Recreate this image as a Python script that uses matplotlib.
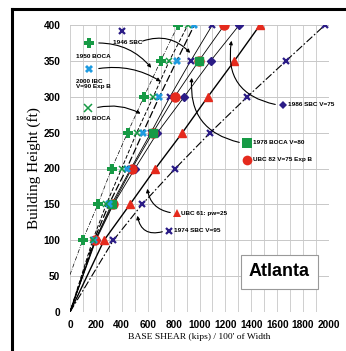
import matplotlib
matplotlib.use("Agg")
import matplotlib.pyplot as plt
from matplotlib.lines import Line2D

# heights (ft)
heights = [100, 150, 200, 250, 300, 350, 400]

# base shear (kips) / 100' of width
boca_1950 = [98, 215, 322, 445, 571, 700, 835]
boca_1960 = [175, 280, 399, 515, 643, 767, 910]
ibc_2000 = [185, 300, 438, 563, 690, 824, 960]
sbc_1946 = [195, 320, 470, 625, 772, 932, 1099]
ubc_1982 = [193, 330, 478, 640, 808, 995, 1192]
sbc_1986 = [200, 335, 502, 675, 882, 1086, 1307]
ubc_1961 = [263, 463, 660, 868, 1065, 1269, 1467]
sbc_1974 = [335, 557, 813, 1083, 1369, 1668, 1969]
boca_1978_h = [150, 250, 350]
boca_1978 = [322, 638, 996]

# 1950 BOCA line starts up the axis
boca_1950_start = 52

green = "#169a45"
blue = "#1e9be0"
red = "#e52a1d"
navy = "#2b1c86"

sans = ["Liberation Sans", "DejaVu Sans"]

fig = plt.figure(figsize=(3.46, 3.51), dpi=100)
ax = fig.add_axes([70 / 346, 1 - 312 / 351, 259 / 346, 287 / 351])

ax.set_xlim(0, 2000)
ax.set_ylim(0, 400)
ax.set_xticks(range(0, 2001, 200))
ax.set_xticks(range(0, 2001, 100), minor=True)
ax.set_yticks(range(0, 401, 50))
ax.grid(True, which="both", axis="x", color="#c8c8c8", lw=0.6)
ax.grid(True, which="major", axis="y", color="#c8c8c8", lw=0.7)
for s in ax.spines.values():
    s.set_visible(False)
ax.tick_params(which="both", length=0)
ax.tick_params(axis="x", pad=6)
ax.tick_params(axis="y", pad=7)
for lab in ax.get_xticklabels() + ax.get_yticklabels():
    lab.set_family(sans)
    lab.set_fontweight("bold")
    lab.set_fontsize(7.3)

ax.set_xlabel("BASE SHEAR (kips) / 100' of Width", family="Liberation Serif",
              fontsize=6.8, labelpad=2)
ax.set_ylabel("Building Height (ft)", family="Liberation Serif",
              fontsize=11, labelpad=2)

# lines (from origin through points)
def draw(xs, hs, ls, lw, x0=0, h0=0, z=2):
    ax.plot([x0] + list(xs), [h0] + list(hs), color="black", ls=ls, lw=lw, zorder=z)

draw(boca_1950, heights, (0, (6, 2, 1, 2)), 0.5, h0=boca_1950_start)
draw(boca_1960, heights, (0, (4, 2)), 0.7)
draw(ibc_2000, heights, (0, (6, 2)), 0.9)
draw(sbc_1946, heights, "-", 0.6)
draw(ubc_1982, heights, "-", 0.6)
draw(sbc_1986, heights, "-", 0.6)
draw(ubc_1961, heights, "-", 1.0)
draw(sbc_1974, heights, (0, (7, 2, 1.5, 2)), 0.8)

# markers
ax.plot(sbc_1946, heights, "x", color=navy, ms=4.5, mew=1.6, ls="none", zorder=3)
ax.plot(sbc_1986, heights, "D", color=navy, ms=4, ls="none", zorder=3)
ax.plot(ubc_1982, heights, "o", color=red, ms=6.5, ls="none", zorder=4)
ax.plot(boca_1978, boca_1978_h, "s", color=green, ms=5.5, ls="none", zorder=5)
ax.plot(ubc_1961, heights, "^", color=red, ms=6, ls="none", zorder=4)
ax.plot(sbc_1974, heights, "x", color=navy, ms=4.5, mew=1.6, ls="none", zorder=4)
ax.plot(ibc_2000, heights, "X", color=blue, ms=6, mew=0, ls="none", zorder=6)
ax.plot(boca_1960, heights, "x", color=green, ms=5, mew=1.1, ls="none", zorder=6)
ax.plot(boca_1950, heights, "P", color=green, ms=6.5, mew=0, ls="none", zorder=6)

# labels with their own marker keys (axes fraction coordinates)
ann_font = dict(fontsize=4.6, fontweight="bold", family=sans, zorder=8)
arrow = dict(arrowstyle="-|>", color="black", lw=0.8, mutation_scale=5)

def fx(px):
    return (px - 70) / 259

def fy(py):
    return (312 - py) / 287

keys = [
    ("1946 SBC", "x", navy, 122, 31, 113, 43, 5),
    ("1950 BOCA", "P", green, 89, 43, 76, 56, 7),
    ("2000 IBC\nV=90 Exp B", "X", blue, 89, 69, 76, 84, 6),
    ("1960 BOCA", "x", green, 88, 108, 76, 118, 5.5),
    ("1986 SBC V=75", "D", navy, 283, 105, 288, 105, 4.5),
    ("1978 BOCA V=80", "s", green, 247, 143, 253, 143, 7),
    ("UBC 82 V=75 Exp B", "o", red, 247, 160, 253, 160, 7),
    ("UBC 61: pw=25", "^", red, 177, 213, 181, 213, 5.5),
    ("1974 SBC V=95", "x", navy, 169, 231, 174, 231, 4.5),
]
for txt, mk, col, mx, my, tx, ty, ms in keys:
    kw = dict(mew=1.6) if mk == "x" else dict(mew=0)
    if mk == "x" and col == green:
        kw = dict(mew=1.1)
    ax.plot([fx(mx)], [fy(my)], mk, color=col, ms=ms, transform=ax.transAxes,
            clip_on=False, zorder=8, **kw)
    ax.text(fx(tx), fy(ty), txt, ha="left", va="center", transform=ax.transAxes,
            linespacing=1.15, **ann_font)

arrows = [
    ((140, 42), (192, 55), "arc3,rad=-0.35"),
    ((96, 43), (153, 70), "arc3,rad=-0.25"),
    ((96, 69), (163, 83), "arc3,rad=-0.2"),
    ((95, 108), (143, 115), "arc3,rad=-0.2"),
    ((278, 105), (232, 38), "arc3,rad=-0.5"),
    ((242, 143), (192, 75), "arc3,rad=-0.45"),
    ((173, 213), (147, 186), "arc3,rad=-0.4"),
    ((165, 231), (137, 213), "arc3,rad=-0.6"),
]
for (sx, sy), (ex, ey), cs in arrows:
    ax.annotate("", xy=(fx(ex), fy(ey)), xytext=(fx(sx), fy(sy)),
                xycoords="axes fraction", textcoords="axes fraction",
                arrowprops=dict(connectionstyle=cs, **arrow), zorder=8)

ax.text(fx(279.5), fy(272), "Atlanta", ha="center", va="center", transform=ax.transAxes,
        fontsize=13, fontweight="bold", family=sans,
        bbox=dict(boxstyle="square,pad=0.45", fc="white", ec="#999999", lw=0.8),
        zorder=9)

# frame of the picture (top and left edge)
fig.add_artist(Line2D([12 / 346, 1], [1 - 9 / 351, 1 - 9 / 351], color="black",
                      lw=2.2, transform=fig.transFigure))
fig.add_artist(Line2D([12 / 346, 12 / 346], [0, 1 - 9 / 351], color="black",
                      lw=2.2, transform=fig.transFigure))

fig.savefig("out.png", dpi=100)
